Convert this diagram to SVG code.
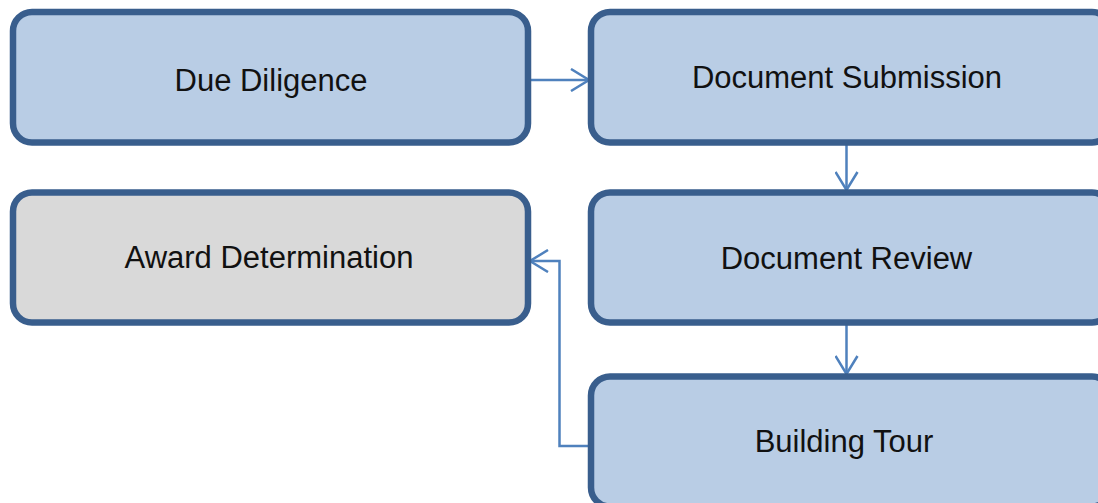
<svg xmlns="http://www.w3.org/2000/svg" width="1098" height="503" viewBox="0 0 1098 503">
  <style>
    .box { fill: #b9cde5; stroke: #395e8d; stroke-width: 6.5; }
    .box.final { fill: #d9d9d9; }
    .label { font-family: "Liberation Sans", Arial, sans-serif; font-size: 31px; fill: #111; text-anchor: middle; }
    .conn { fill: none; stroke: #4f81bd; stroke-width: 2.5; }
    .head { fill: none; stroke: #4f81bd; stroke-width: 2.5; stroke-linejoin: miter; }
  </style>
  <defs>
    <marker id="chevron" viewBox="0 0 22 24" refX="21" refY="12" markerWidth="22" markerHeight="24" markerUnits="userSpaceOnUse" orient="auto">
      <path class="head" d="M2 1 L20 12 L2 23"/>
    </marker>
  </defs>

  <g id="connectors">
    <path class="conn" d="M528 80 H590" marker-end="url(#chevron)"/>
    <path class="conn" d="M846.5 142.5 V191" marker-end="url(#chevron)"/>
    <path class="conn" d="M846.5 322.5 V375" marker-end="url(#chevron)"/>
    <path class="conn" d="M591 446 H559.5 V261 H529" marker-end="url(#chevron)"/>
  </g>

  <g id="due-diligence">
    <rect class="box" x="13" y="12" width="515" height="130.5" rx="19" ry="19"/>
    <text class="label" x="271" y="91">Due Diligence</text>
  </g>

  <g id="document-submission">
    <rect class="box" x="591" y="12" width="520" height="130.5" rx="19" ry="19"/>
    <text class="label" x="847" y="88">Document Submission</text>
  </g>

  <g id="award-determination">
    <rect class="box final" x="13" y="192.5" width="515" height="130" rx="19" ry="19"/>
    <text class="label" x="269" y="268">Award Determination</text>
  </g>

  <g id="document-review">
    <rect class="box" x="591" y="192.5" width="520" height="130" rx="19" ry="19"/>
    <text class="label" x="846.5" y="269">Document Review</text>
  </g>

  <g id="building-tour">
    <rect class="box" x="591" y="376.5" width="520" height="130" rx="19" ry="19"/>
    <text class="label" x="844" y="452">Building Tour</text>
  </g>
</svg>
